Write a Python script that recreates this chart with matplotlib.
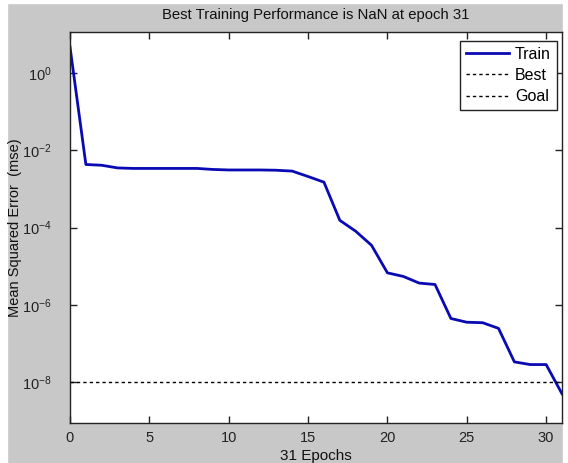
import numpy as np
import matplotlib
matplotlib.use('Agg')
import matplotlib.pyplot as plt
from matplotlib.patches import Rectangle

plt.rcParams['font.family'] = ['Liberation Sans', 'DejaVu Sans']

# Datos (mse por epoca)
epocas = np.arange(0, 32)
mse_train = [4.7, 4.3e-3, 4.1e-3, 3.5e-3, 3.4e-3, 3.4e-3, 3.4e-3, 3.4e-3,
             3.4e-3, 3.2e-3, 3.1e-3, 3.1e-3, 3.1e-3, 3.05e-3, 2.9e-3, 2.1e-3,
             1.5e-3, 1.55e-4, 8.1e-5, 3.5e-5, 6.8e-6, 5.5e-6, 3.7e-6, 3.4e-6,
             4.5e-7, 3.6e-7, 3.5e-7, 2.5e-7, 3.4e-8, 2.9e-8, 2.9e-8, 5.1e-9]
goal = 1e-8
xticks = [0, 5, 10, 15, 20, 25, 30]
yticks = [1e0, 1e-2, 1e-4, 1e-6, 1e-8]

gris = '#c8c8c8'
fig = plt.figure(figsize=(5.68, 4.63), dpi=100, facecolor=gris)

# bordes blancos de la captura
fig.patches.append(Rectangle((0, 0), 7/568, 1, transform=fig.transFigure, color='white', zorder=-1))
fig.patches.append(Rectangle((0, 1-3/463), 1, 3/463, transform=fig.transFigure, color='white', zorder=-1))
fig.patches.append(Rectangle((563/568, 0), 5/568, 1, transform=fig.transFigure, color='white', zorder=-1))

ax = fig.add_axes([70/568, 40.3/463, 492/568, 390.7/463])
ax.set_facecolor('white')

ax.semilogy(epocas, mse_train, color='#0a0ab4', lw=2, label='Train')
ax.plot([], [], color='k', lw=1, dashes=(2.4, 2.2), label='Best')
ax.axhline(goal, color='k', lw=1, dashes=(2.4, 2.2), label='Goal')

ax.set_xlim(0, 31)
ax.set_ylim(10**-9.04, 10**1.057)
ax.set_xticks(xticks)
ax.set_yticks(yticks)
ax.minorticks_off()
ax.tick_params(direction='in', top=True, right=True, length=5, width=1, labelsize=10.5, colors='#222222')
ax.tick_params(axis='y', pad=13)
ax.tick_params(axis='x', pad=6)
for s in ax.spines.values():
    s.set_linewidth(1)
    s.set_color('#222222')

ax.set_title('Best Training Performance is NaN at epoch 31', fontsize=10.7, pad=9, color='#111111')
ax.set_xlabel('31 Epochs', fontsize=11, labelpad=3, color='#111111')
ax.set_ylabel('Mean Squared Error  (mse)', fontsize=10.5, color='#111111')
ax.yaxis.set_label_coords(-0.097, 0.5)

leg = ax.legend(loc='upper right', bbox_to_anchor=(0.989, 0.977), fontsize=11.5,
                fancybox=False, framealpha=1, edgecolor='#222222', handlelength=2.7,
                labelspacing=0.4, borderpad=0.35, handletextpad=0.4, borderaxespad=0)
leg.get_frame().set_linewidth(1)

fig.savefig('out.png', dpi=100, facecolor=gris)
